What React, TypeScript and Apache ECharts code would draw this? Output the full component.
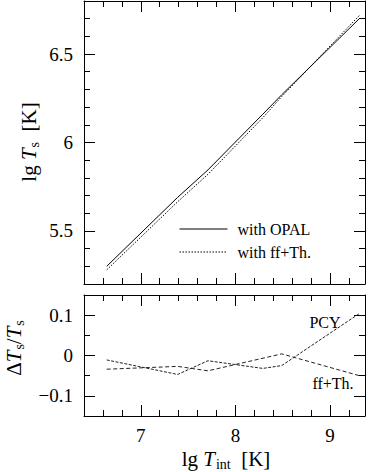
import React, { useEffect, useRef } from "react";
import * as echarts from "echarts";

// lg T_int positions of the computed models
const tInt = [6.64, 7.39, 7.71, 8.29, 8.49, 9.31];
// lg T_s for the two opacity choices (upper panel)
const lgTsOpal = [5.3, 5.69, 5.845, 6.16, 6.27, 6.7];
const lgTsFf = [5.28, 5.665, 5.82, 6.14, 6.26, 6.718];
// relative deviations (lower panel)
const tIntPcy = [6.64, 7.39, 7.71, 8.29, 8.49, 9.31];
const dPcy = [-0.011, -0.047, -0.013, -0.032, -0.025, 0.104];
const tIntFf = [6.64, 7.39, 7.71, 8.49, 9.31];
const dFf = [-0.034, -0.027, -0.038, 0.004, -0.05];

// axis ticks
const xMajor = [7, 8, 9];
const xMinor = [6.6, 6.8, 7, 7.2, 7.4, 7.6, 7.8, 8, 8.2, 8.4, 8.6, 8.8, 9, 9.2];
const yTopMajor = [5.5, 6, 6.5];
const yTopMinor = [5.3, 5.4, 5.5, 5.6, 5.7, 5.8, 5.9, 6, 6.1, 6.2, 6.3, 6.4, 6.5, 6.6, 6.7];
const yBotMajor = [-0.1, 0, 0.1];
const yBotMinor = [-0.1, -0.05, 0, 0.05, 0.1];

const FONT = "Liberation Serif";
const X_MIN = 6.4;
const X_MAX = 9.37;

const fmt = (v: number) => (v < 0 ? "\u2212" + String(Math.abs(v)) : String(v));

export default function App() {
  const ref = useRef<HTMLDivElement>(null);
  useEffect(() => {
    if (!ref.current) return;
    const chart = echarts.init(ref.current, undefined, { renderer: "svg" });
    const lineCol = "#000";

    const mkX = (grid: number, pos: "top" | "bottom", major: boolean, labels: boolean) => ({
      type: "value",
      gridIndex: grid,
      position: pos,
      min: X_MIN,
      max: X_MAX,
      axisLine: { show: major, onZero: false, lineStyle: { color: lineCol, width: 1 } },
      axisTick: {
        show: true,
        inside: true,
        length: major ? 11 : 6,
        customValues: major ? xMajor : xMinor,
        lineStyle: { color: lineCol, width: 1 },
      },
      axisLabel: {
        show: labels,
        customValues: xMajor,
        formatter: fmt,
        margin: 10,
        color: "#000",
        fontFamily: FONT,
        fontSize: 19,
      },
      splitLine: { show: false },
    });
    const mkY = (
      grid: number,
      pos: "left" | "right",
      major: boolean,
      labels: boolean,
      min: number,
      max: number,
      majT: number[],
      minT: number[]
    ) => ({
      type: "value",
      gridIndex: grid,
      position: pos,
      min,
      max,
      axisLine: { show: major, onZero: false, lineStyle: { color: lineCol, width: 1 } },
      axisTick: {
        show: true,
        inside: true,
        length: major ? 11 : 6,
        customValues: major ? majT : minT,
        lineStyle: { color: lineCol, width: 1 },
      },
      axisLabel: {
        show: labels,
        customValues: majT,
        formatter: fmt,
        margin: 11,
        color: "#000",
        fontFamily: FONT,
        fontSize: 19,
      },
      splitLine: { show: false },
    });

    const subRich = {
      n: { fontFamily: FONT, fontSize: 21, color: "#000" },
      i: { fontFamily: FONT, fontSize: 21, fontStyle: "italic", color: "#000" },
      s: { fontFamily: FONT, fontSize: 14, color: "#000", padding: [10, 0, 0, 1] },
    };

    chart.setOption({
      animation: false,
      textStyle: { fontFamily: FONT },
      grid: [
        { left: 84, width: 281, top: 1, height: 283, containLabel: false },
        { left: 84, width: 281, top: 295, height: 121, containLabel: false },
      ],
      xAxis: [
        mkX(0, "bottom", true, false),
        mkX(0, "bottom", false, false),
        mkX(0, "top", true, false),
        mkX(0, "top", false, false),
        mkX(1, "bottom", true, true),
        mkX(1, "bottom", false, false),
        mkX(1, "top", true, false),
        mkX(1, "top", false, false),
      ],
      yAxis: [
        mkY(0, "left", true, true, 5.2, 6.8, yTopMajor, yTopMinor),
        mkY(0, "left", false, false, 5.2, 6.8, yTopMajor, yTopMinor),
        mkY(0, "right", true, false, 5.2, 6.8, yTopMajor, yTopMinor),
        mkY(0, "right", false, false, 5.2, 6.8, yTopMajor, yTopMinor),
        mkY(1, "left", true, true, -0.15, 0.15, yBotMajor, yBotMinor),
        mkY(1, "left", false, false, -0.15, 0.15, yBotMajor, yBotMinor),
        mkY(1, "right", true, false, -0.15, 0.15, yBotMajor, yBotMinor),
        mkY(1, "right", false, false, -0.15, 0.15, yBotMajor, yBotMinor),
      ],
      legend: {
        data: ["with OPAL", "with ff+Th."],
        orient: "vertical",
        left: 179,
        top: 221,
        padding: 0,
        itemWidth: 48,
        itemHeight: 12,
        itemGap: 7,
        itemStyle: { opacity: 0 },
        lineStyle: { width: 1 },
        textStyle: { fontFamily: FONT, fontSize: 16, color: "#000", padding: [0, 0, 0, 5] },
      },
      series: [
        {
          name: "with OPAL",
          type: "line",
          xAxisIndex: 0,
          yAxisIndex: 0,
          data: tInt.map((x, k) => [x, lgTsOpal[k]]),
          symbol: "none",
          lineStyle: { color: "#000", width: 1, type: "solid" },
          itemStyle: { color: "#000" },
        },
        {
          name: "with ff+Th.",
          type: "line",
          xAxisIndex: 0,
          yAxisIndex: 0,
          data: tInt.map((x, k) => [x, lgTsFf[k]]),
          symbol: "none",
          lineStyle: { color: "#000", width: 1, type: [1.5, 1.5] },
          itemStyle: { color: "#000" },
        },
        {
          name: "PCY",
          type: "line",
          xAxisIndex: 4,
          yAxisIndex: 4,
          data: tIntPcy.map((x, k) => [x, dPcy[k]]),
          symbol: "none",
          lineStyle: { color: "#222", width: 1, type: [3, 1.5] },
        },
        {
          name: "ff+Th.",
          type: "line",
          xAxisIndex: 4,
          yAxisIndex: 4,
          data: tIntFf.map((x, k) => [x, dFf[k]]),
          symbol: "none",
          lineStyle: { color: "#222", width: 1, type: [4, 2.5] },
        },
      ],
      graphic: [
        {
          type: "text",
          x: 29,
          y: 142,
          rotation: Math.PI / 2,
          style: {
            text: "{n|lg }{i|T}{s|s}{n|  [K]}",
            rich: subRich,
            align: "center",
            verticalAlign: "middle",
          },
        },
        {
          type: "text",
          x: 14,
          y: 348,
          rotation: Math.PI / 2,
          style: {
            text: "{n|\u0394}{i|T}{s|s}{n|/}{i|T}{s|s}",
            rich: subRich,
            align: "center",
            verticalAlign: "middle",
          },
        },
        {
          type: "text",
          x: 226,
          y: 459,
          style: {
            text: "{n|lg }{i|T}{s|int}{n|  [K]}",
            rich: subRich,
            align: "center",
            verticalAlign: "middle",
          },
        },
        {
          type: "text",
          x: 325,
          y: 322,
          style: {
            text: "PCY",
            fontFamily: FONT,
            fontSize: 16,
            fill: "#000",
            align: "center",
            verticalAlign: "middle",
          },
        },
        {
          type: "text",
          x: 333,
          y: 383,
          style: {
            text: "ff+Th.",
            fontFamily: FONT,
            fontSize: 16,
            fill: "#000",
            align: "center",
            verticalAlign: "middle",
          },
        },
      ],
    });
    return () => chart.dispose();
  }, []);
  return (
    <div
      ref={ref}
      style={{ position: "absolute", left: 0, top: 0, width: 369, height: 472, background: "#fff" }}
    />
  );
}
